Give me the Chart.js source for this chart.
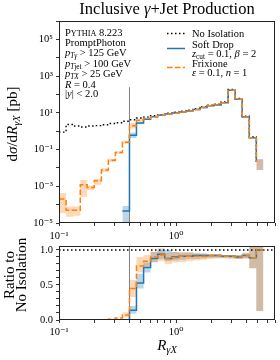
<!DOCTYPE html>
<html>
<head>
<meta charset="utf-8">
<script src="https://cdn.jsdelivr.net/npm/chart.js@4.4.0/dist/chart.umd.min.js"></script>
<style>
  html, body { margin: 0; padding: 0; background: #fff; }
  #wrap { position: relative; width: 280px; height: 360px; overflow: hidden; }
  #topChart { position: absolute; left: 0; top: 0; width: 280px; height: 250px; }
  #ratioChart { position: absolute; left: 0; top: 228px; width: 280px; height: 132px; }
</style>
</head>
<body>
<div id="wrap">
  <canvas id="topChart" width="280" height="250"></canvas>
  <canvas id="ratioChart" width="280" height="132"></canvas>
</div>
<script>
const SERIF = '"Liberation Serif", "DejaVu Serif", serif';

// R_gammaX bin edges (log spaced)
const binEdges = [0.1, 0.115, 0.132, 0.152, 0.174, 0.2, 0.23, 0.264, 0.303, 0.348,
  0.4, 0.459, 0.528, 0.606, 0.696, 0.8, 0.919, 1.056, 1.213, 1.393,
  1.6, 1.838, 2.111, 2.425, 2.786, 3.2, 3.676, 4.222, 4.85, 5.571, 6.4];

// dsigma/dR [pb], one value per bin (last bin empty)
const noIsolation = [0.89, 2.3, 1.9, 1.7, 1.9, 2.0, 2.25, 2.6, 2.9, 3.5,
  4.2, 5.2, 5.8, 6.9, 7.9, 9.6, 10.8, 12.3, 13.9, 16.7,
  21, 26, 29.5, 39, 186, 60, 6.5, 0.49, 0.021, 0];
const softDrop = [0, 0, 0, 0, 0, 0, 0, 0, 0, 4.5e-5,
  0.6, 2.8, 4.4, 6.1, 7.4, 8.5, 9.7, 11.2, 12.7, 15.3,
  19.3, 24, 27, 35.5, 169, 54, 6.0, 0.44, 0.021, 0];
const frixione = [2e-4, 5e-5, 5e-5, 1.2e-3, 8.7e-4, 2e-3, 7.6e-3, 0.026, 0.069, 0.25,
  2.0, 4.0, 4.9, 6.2, 7.3, 8.5, 9.6, 11.2, 12.7, 15.2,
  19.2, 24, 27, 35.5, 169, 54, 5.9, 0.44, 0.021, 0];

// uncertainty bands (null = not visible)
const softDropLo = [null, null, null, null, null, null, null, null, null, 1e-5,
  0.42, 2.4, null, null, null, null, null, null, null, null,
  null, null, null, null, null, null, null, null, 7.6e-3];
const softDropHi = [null, null, null, null, null, null, null, null, null, 8.3e-5,
  0.85, 3.3, null, null, null, null, null, null, null, null,
  null, null, null, null, null, null, null, null, 0.030];
const frixioneLo = [3.5e-5, 2.2e-5, 2.5e-5, 2.7e-4, 6.3e-4, 1.2e-3, 6e-3, 0.021, 0.058, 0.21,
  1.4, 3.4, null, null, null, null, null, null, null, null,
  null, null, null, null, null, null, null, null, 7.6e-3];
const frixioneHi = [4.3e-4, 7.8e-5, 8e-5, 2.2e-3, 1.1e-3, 2.6e-3, 9.5e-3, 0.032, 0.082, 0.30,
  2.8, 4.7, null, null, null, null, null, null, null, null,
  null, null, null, null, null, null, null, null, 0.030];

// ratio to no isolation
const ratioSoftDrop = [0, 0, 0, 0, 0, 0, 0, 0, 0, 0,
  0.14, 0.53, 0.75, 0.88, 0.94, 0.88, 0.90, 0.91, 0.91, 0.92,
  0.92, 0.92, 0.92, 0.91, 0.91, 0.90, 0.92, 0.89, 1.0];
const ratioFrixione = [0, 0, 0, 0, 0, 0, 0, 0.01, 0.03, 0.07,
  0.45, 0.77, 0.84, 0.90, 0.93, 0.88, 0.89, 0.91, 0.91, 0.91,
  0.91, 0.92, 0.92, 0.91, 0.91, 0.90, 0.92, 0.89, 1.0];
const ratioSoftDropLo = [null, null, null, null, null, null, null, null, null, null,
  0.09, 0.45, 0.68, 0.83, 0.87, 0.84, 0.85, 0.86, 0.87, 0.87,
  0.88, 0.89, 0.89, 0.89, 0.88, 0.87, 0.88, 0.74, 0.13];
const ratioSoftDropHi = [null, null, null, null, null, null, null, null, null, null,
  0.20, 0.66, 0.82, 0.97, 1.02, 1.0, 0.97, 0.96, 0.96, 0.95,
  0.95, 0.94, 0.94, 0.93, 0.93, 0.93, 0.96, 1.06, 1.1];
const ratioFrixioneLo = [null, null, null, null, null, null, null, null, null, 0.04,
  0.33, 0.68, 0.77, 0.82, 0.84, 0.80, 0.82, 0.83, 0.84, 0.85,
  0.86, 0.87, 0.88, 0.88, 0.88, 0.87, 0.88, 0.74, 0.13];
const ratioFrixioneHi = [null, null, null, null, null, null, null, null, null, 0.11,
  0.57, 0.90, 0.93, 0.98, 1.0, 0.96, 0.97, 0.97, 0.97, 0.96,
  0.95, 0.94, 0.94, 0.93, 0.93, 0.93, 0.95, 1.06, 1.1];

const jetRadius = 0.4;
const cutLineTop = 250;

const xTicks = [0.1, 0.2, 0.3, 0.4, 0.5, 0.6, 0.7, 0.8, 0.9, 1, 2, 3, 4, 5, 6, 7];
const xTickLabels = ['10⁻¹', '', '', '', '', '', '', '', '', '10⁰', '', '', '', '', '', ''];
const yTopTicks = [1e-5, 1e-4, 1e-3, 1e-2, 1e-1, 1, 10, 100, 1e3, 1e4, 1e5, 1e6];
const yTopTickLabels = ['10⁻⁵', '', '10⁻³', '', '10⁻¹', '', '10¹', '', '10³', '', '10⁵', ''];
const yRatioTicks = [0, 0.1, 0.2, 0.3, 0.4, 0.5, 0.6, 0.7, 0.8, 0.9, 1.0];
const yRatioTickLabels = ['0.0', '', '', '', '', '0.5', '', '', '', '', '1.0'];

const BLUE = '#1f77b4';
const ORANGE = '#ff7f0e';

// --- helpers ---
function stepPoints(values) {
  return values.map((v, k) => ({ x: binEdges[k], y: v }));
}
function ratioPoints(values) {
  const pts = values.map((v, k) => ({ x: binEdges[k], y: v }));
  pts.push({ x: binEdges[values.length], y: values[values.length - 1] });
  return pts;
}
function bandPoints(values) {
  const pts = [];
  values.forEach((v, k) => {
    if (v === null) { pts.push({ x: binEdges[k], y: null }); return; }
    pts.push({ x: binEdges[k], y: v }, { x: binEdges[k + 1], y: v });
  });
  return pts;
}
function bandSets(lo, hi, color, order, startIndex) {
  return [
    { data: bandPoints(lo), borderWidth: 0, pointRadius: 0, fill: false, order: order, spanGaps: false },
    { data: bandPoints(hi), borderWidth: 0, pointRadius: 0, backgroundColor: color,
      fill: startIndex, order: order, spanGaps: false }
  ];
}

function partFont(kind, size) {
  const it = kind === 'i' || kind === 's';
  let sz = size;
  if (kind === 's' || kind === 'sr') sz = size * 0.7;
  if (kind === 'c') sz = size * 0.78;
  return (it ? 'italic ' : '') + sz.toFixed(1) + 'px ' + SERIF;
}
function partText(p) { return p[1] === 'c' ? p[0].toUpperCase() : p[0]; }
function richWidth(ctx, parts, size) {
  let w = 0;
  parts.forEach(p => { ctx.font = partFont(p[1], size); w += ctx.measureText(partText(p)).width; });
  return w;
}
function drawRich(ctx, parts, x, y, size, align) {
  if (align === 'center') x -= richWidth(ctx, parts, size) / 2;
  ctx.textAlign = 'left';
  ctx.textBaseline = 'alphabetic';
  parts.forEach(p => {
    ctx.font = partFont(p[1], size);
    const dy = (p[1] === 's' || p[1] === 'sr') ? size * 0.22 : 0;
    const t = partText(p);
    ctx.fillText(t, x, y + dy);
    x += ctx.measureText(t).width;
  });
}
function drawRotated(ctx, parts, x, y, size) {
  ctx.save();
  ctx.translate(x, y);
  ctx.rotate(-Math.PI / 2);
  drawRich(ctx, parts, 0, 0, size, 'center');
  ctx.restore();
}

const framePlugin = {
  id: 'frame',
  afterDatasetsDraw(chart) {
    const { ctx, chartArea: a } = chart;
    ctx.save();
    ctx.strokeStyle = '#222';
    ctx.lineWidth = 1;
    ctx.strokeRect(a.left + 0.5, a.top + 0.5, a.right - a.left - 1, a.bottom - a.top - 1);
    ctx.restore();
  }
};

const topTextPlugin = {
  id: 'topText',
  afterDraw(chart) {
    const ctx = chart.ctx;
    ctx.save();
    ctx.fillStyle = '#000';
    drawRich(ctx, [['Inclusive ', 'r'], ['γ', 'i'], ['+Jet Production', 'r']], 167, 14, 16.5, 'center');
    drawRotated(ctx, [['d', 'r'], ['σ', 'i'], ['/d', 'r'], ['R', 'i'], ['γX', 's'], [' [pb]', 'r']], 17, 124, 15);

    // run info box
    const info = [
      [['P', 'r'], ['ythia', 'c'], [' 8.223', 'r']],
      [['PromptPhoton', 'r']],
      [['p', 'i'], ['Tγ', 's'], [' > 125 GeV', 'r']],
      [['p', 'i'], ['T', 's'], ['jet', 'sr'], [' > 100 GeV', 'r']],
      [['p', 'i'], ['TX', 's'], [' > 25 GeV', 'r']],
      [['R', 'i'], [' = 0.4', 'r']],
      [['|', 'r'], ['y', 'i'], ['| < 2.0', 'r']]
    ];
    const infoBase = [35.5, 45.5, 56, 67, 76.5, 88, 97];
    info.forEach((line, i) => drawRich(ctx, line, 65, infoBase[i], 10.5));

    // legend
    ctx.lineWidth = 1.5;
    ctx.strokeStyle = '#000';
    ctx.setLineDash([1.5, 2.5]);
    ctx.beginPath(); ctx.moveTo(167, 33.5); ctx.lineTo(185, 33.5); ctx.stroke();
    ctx.strokeStyle = BLUE;
    ctx.setLineDash([]);
    ctx.beginPath(); ctx.moveTo(167, 48.5); ctx.lineTo(185, 48.5); ctx.stroke();
    ctx.strokeStyle = ORANGE;
    ctx.setLineDash([5.5, 2.4]);
    ctx.beginPath(); ctx.moveTo(167, 67.5); ctx.lineTo(185, 67.5); ctx.stroke();
    ctx.setLineDash([]);
    drawRich(ctx, [['No Isolation', 'r']], 192, 36.5, 10.5);
    drawRich(ctx, [['Soft Drop', 'r']], 192, 47.5, 10.5);
    drawRich(ctx, [['z', 'i'], ['cut', 'sr'], [' = 0.1, ', 'r'], ['β', 'i'], [' = 2', 'r']], 192, 56.5, 10.5);
    drawRich(ctx, [['Frixione', 'r']], 192, 67, 10.5);
    drawRich(ctx, [['ε', 'i'], [' = 0.1, ', 'r'], ['n', 'i'], [' = 1', 'r']], 192, 75.5, 10.5);
    ctx.restore();
  }
};

const ratioTextPlugin = {
  id: 'ratioText',
  afterDraw(chart) {
    const ctx = chart.ctx;
    ctx.save();
    ctx.fillStyle = '#000';
    drawRotated(ctx, [['Ratio to', 'r']], 14, 47, 15);
    drawRotated(ctx, [['No Isolation', 'r']], 26, 47, 15);
    drawRich(ctx, [['R', 'i'], ['γX', 's']], 167, 122, 15, 'center');
    ctx.restore();
  }
};

function xScale(height, pad) {
  return {
    type: 'logarithmic', min: 0.1, max: 7, bounds: 'data',
    afterBuildTicks: s => { s.ticks = xTicks.map((v, i) => ({ value: v, major: xTickLabels[i] !== '' })); },
    afterFit: s => { s.height = height; },
    ticks: {
      autoSkip: false, maxRotation: 0, minRotation: 0, padding: pad, color: '#000',
      font: { family: SERIF, size: 10.5 },
      callback: (v, i) => xTickLabels[i]
    },
    grid: { drawOnChartArea: false, drawTicks: true, tickLength: 3, tickColor: '#000', tickWidth: 0.8 },
    border: { display: false }
  };
}

// --- top panel ---
const topDatasets = [];
topDatasets.push({ data: stepPoints(frixione), borderColor: ORANGE, borderWidth: 1.5, borderDash: [5.5, 2.4], stepped: 'before', order: 1 });
topDatasets.push({ data: stepPoints(softDrop), borderColor: BLUE, borderWidth: 1.5, stepped: 'before', order: 2 });
topDatasets.push({ data: stepPoints(noIsolation), borderColor: '#000', borderWidth: 1.4, borderDash: [1.5, 2.5], stepped: 'before', order: 3 });
topDatasets.push({ data: [{ x: jetRadius, y: 1e-5 }, { x: jetRadius, y: cutLineTop }], borderColor: '#808080', borderWidth: 1, order: 4 });
topDatasets.push(...bandSets(frixioneLo, frixioneHi, 'rgba(255,127,14,0.3)', 5, topDatasets.length));
topDatasets.push(...bandSets(softDropLo, softDropHi, 'rgba(31,119,180,0.3)', 6, topDatasets.length));

new Chart(document.getElementById('topChart'), {
  type: 'line',
  data: { datasets: topDatasets },
  options: {
    responsive: false, animation: false, devicePixelRatio: 1,
    layout: { padding: { top: 21, right: 5, left: 0, bottom: 0 } },
    elements: { point: { radius: 0 }, line: { tension: 0 } },
    plugins: { legend: { display: false }, tooltip: { enabled: false } },
    scales: {
      x: xScale(27, 4),
      y: {
        type: 'logarithmic', min: 1e-5, max: 1e6, bounds: 'data',
        afterBuildTicks: s => { s.ticks = yTopTicks.map(v => ({ value: v })); },
        afterFit: s => { s.width = 59; },
        ticks: { autoSkip: false, padding: 3, color: '#000', font: { family: SERIF, size: 10.5 },
          callback: (v, i) => yTopTickLabels[i] },
        grid: { drawOnChartArea: false, drawTicks: true, tickLength: 3, tickColor: '#000', tickWidth: 0.8 },
        border: { display: false }
      }
    }
  },
  plugins: [framePlugin, topTextPlugin]
});

// --- ratio panel ---
const ratioDatasets = [];
ratioDatasets.push({ data: ratioPoints(ratioFrixione), borderColor: ORANGE, borderWidth: 1.5, borderDash: [5.5, 2.4], stepped: 'before', order: 1 });
ratioDatasets.push({ data: ratioPoints(ratioSoftDrop), borderColor: BLUE, borderWidth: 1.5, stepped: 'before', order: 2 });
ratioDatasets.push({ data: [{ x: 0.1, y: 1 }, { x: 7, y: 1 }], borderColor: '#000', borderWidth: 1.4, borderDash: [1.5, 2.5], order: 3 });
ratioDatasets.push({ data: [{ x: jetRadius, y: 0 }, { x: jetRadius, y: 1.2 }], borderColor: '#808080', borderWidth: 1, order: 4 });
ratioDatasets.push(...bandSets(ratioFrixioneLo, ratioFrixioneHi, 'rgba(255,127,14,0.3)', 5, ratioDatasets.length));
ratioDatasets.push(...bandSets(ratioSoftDropLo, ratioSoftDropHi, 'rgba(31,119,180,0.3)', 6, ratioDatasets.length));

new Chart(document.getElementById('ratioChart'), {
  type: 'line',
  data: { datasets: ratioDatasets },
  options: {
    responsive: false, animation: false, devicePixelRatio: 1,
    layout: { padding: { top: 18, right: 5, left: 0, bottom: 0 } },
    elements: { point: { radius: 0 }, line: { tension: 0 } },
    plugins: { legend: { display: false }, tooltip: { enabled: false } },
    scales: {
      x: xScale(40, 3),
      y: {
        type: 'linear', min: 0, max: 1.057, bounds: 'data',
        afterBuildTicks: s => { s.ticks = yRatioTicks.map(v => ({ value: v })); },
        afterFit: s => { s.width = 59; },
        ticks: { autoSkip: false, padding: 3, color: '#000', font: { family: SERIF, size: 10.5 },
          callback: (v, i) => yRatioTickLabels[i] },
        grid: { drawOnChartArea: false, drawTicks: true, tickLength: 3, tickColor: '#000', tickWidth: 0.8 },
        border: { display: false }
      }
    }
  },
  plugins: [framePlugin, ratioTextPlugin]
});
</script>
</body>
</html>
